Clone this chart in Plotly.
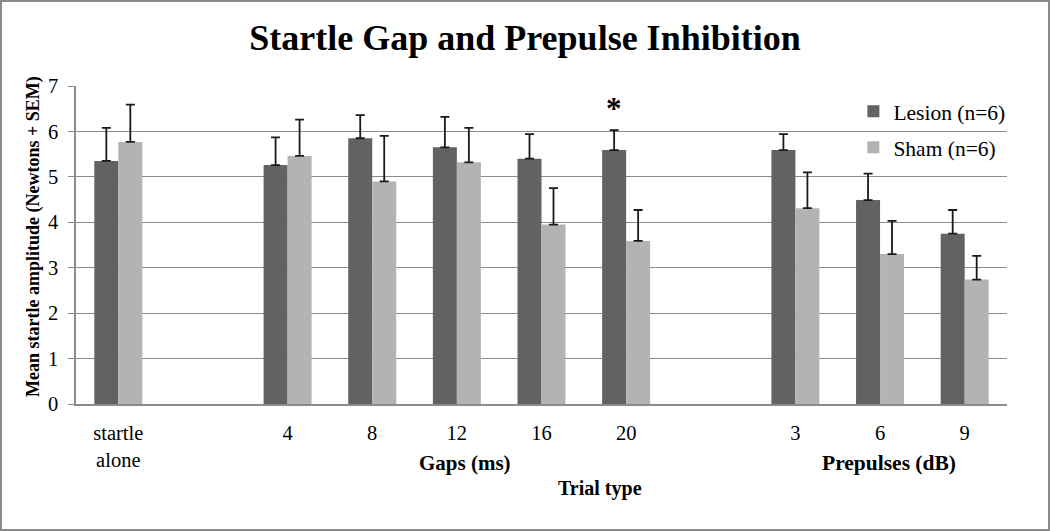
import plotly.graph_objects as go

# ---- data ----
slot_labels = ["startle<br>alone", "", "4", "8", "12", "16", "20", "", "3", "6", "9"]
lesion_mean = [5.35, None, 5.26, 5.85, 5.65, 5.40, 5.59, None, 5.59, 4.49, 3.75]
lesion_sem = [0.73, None, 0.61, 0.51, 0.67, 0.54, 0.44, None, 0.35, 0.58, 0.52]
sham_mean = [5.77, None, 5.46, 4.90, 5.32, 3.95, 3.59, None, 4.31, 3.30, 2.74]
sham_sem = [0.82, None, 0.80, 1.00, 0.76, 0.80, 0.68, None, 0.79, 0.73, 0.52]
y_ticks = [0, 1, 2, 3, 4, 5, 6, 7]

FONT = "Liberation Serif, Times New Roman, serif"
W, H = 1050, 531
ML, MR, MT, MB = 76, 43, 86, 127

x_idx = list(range(len(slot_labels)))
tick_vals = [i for i, t in enumerate(slot_labels) if t]
tick_text = [t for t in slot_labels if t]

fig = go.Figure()
fig.add_trace(go.Bar(
    x=x_idx, y=lesion_mean, name="Lesion (n=6)", legendgroup="a",
    marker=dict(color="#626262", line=dict(width=0)),
    error_y=dict(type="data", array=lesion_sem, symmetric=False,
                 arrayminus=[0] * len(lesion_sem), color="#1a1a1a",
                 thickness=1.8, width=4.5),
))
fig.add_trace(go.Bar(
    x=x_idx, y=sham_mean, name="Sham (n=6)", legendgroup="b",
    marker=dict(color="#b3b3b3", line=dict(width=0)),
    error_y=dict(type="data", array=sham_sem, symmetric=False,
                 arrayminus=[0] * len(sham_sem), color="#1a1a1a",
                 thickness=1.8, width=4.5),
))

fig.update_layout(
    width=W, height=H,
    margin=dict(l=ML, r=MR, t=MT, b=MB),
    paper_bgcolor="white", plot_bgcolor="white",
    barmode="group", bargap=0.433, bargroupgap=0,
    font=dict(family=FONT, color="black"),
    title=dict(text="<b>Startle Gap and Prepulse Inhibition</b>",
               font=dict(size=36, family=FONT, color="black"),
               xref="container", x=0.5, xanchor="center",
               yref="container", y=1 - 37 / H, yanchor="middle"),
    legend=dict(x=0.835, y=0.985, xanchor="left", yanchor="top",
                font=dict(size=21.5, family=FONT), bgcolor="rgba(0,0,0,0)",
                tracegroupgap=5, itemwidth=30),
    xaxis=dict(range=[-0.5, len(slot_labels) - 0.5], tickmode="array",
               tickvals=tick_vals, ticktext=tick_text, showgrid=False,
               showline=True, linecolor="#8c8c8c", linewidth=1.5,
               ticks="", tickfont=dict(size=20.5, family=FONT),
               ticklabelstandoff=10, zeroline=False, fixedrange=True),
    yaxis=dict(range=[0, 7], tickvals=y_ticks, showgrid=True,
               gridcolor="#8c8c8c", gridwidth=1.3, showline=True,
               linecolor="#8c8c8c", linewidth=1.5, ticks="outside",
               ticklen=6, tickcolor="#8c8c8c", tickwidth=1.3,
               tickfont=dict(size=20.5, family=FONT), ticklabelstandoff=6,
               zeroline=False),
)

# axis titles and group labels
fig.add_annotation(text="<b>Mean startle amplitude (Newtons + SEM)</b>",
                   xref="paper", yref="paper", x=(33 - ML) / (W - ML - MR),
                   y=(404 - 237) / (H - MT - MB), textangle=-90,
                   showarrow=False, font=dict(size=18, family=FONT),
                   xanchor="center", yanchor="middle")
fig.add_annotation(text="<b>Gaps (ms)</b>", xref="x", yref="paper",
                   x=4.1, y=(404 - 463) / (H - MT - MB), showarrow=False,
                   font=dict(size=21, family=FONT), yanchor="middle")
fig.add_annotation(text="<b>Prepulses (dB)</b>", xref="x", yref="paper",
                   x=9.11, y=(404 - 463) / (H - MT - MB), showarrow=False,
                   font=dict(size=21.5, family=FONT), yanchor="middle")
fig.add_annotation(text="<b>Trial type</b>", xref="x", yref="paper",
                   x=5.69, y=(404 - 488) / (H - MT - MB), showarrow=False,
                   font=dict(size=20, family=FONT), yanchor="middle")
# significance marker above the Lesion bar at gap 20
fig.add_annotation(text="<b>*</b>", xref="x", yref="y", x=6,
                   y=lesion_mean[6] + lesion_sem[6], xshift=-12, yshift=2,
                   yanchor="bottom", showarrow=False,
                   font=dict(size=31, family=FONT))

# outer frame
pw, ph = W - ML - MR, H - MT - MB
fig.add_shape(type="rect", xref="paper", yref="paper",
              x0=(1 - ML) / pw, x1=(W - 1 - ML) / pw,
              y0=-(MB - 1) / ph, y1=1 + (MT - 1) / ph,
              line=dict(color="#8a8a8a", width=2), layer="below")

fig.write_html("out.html",
               config={"displayModeBar": False},
               post_script="document.body.style.margin='0';"
                           "document.body.style.overflow='hidden';")
